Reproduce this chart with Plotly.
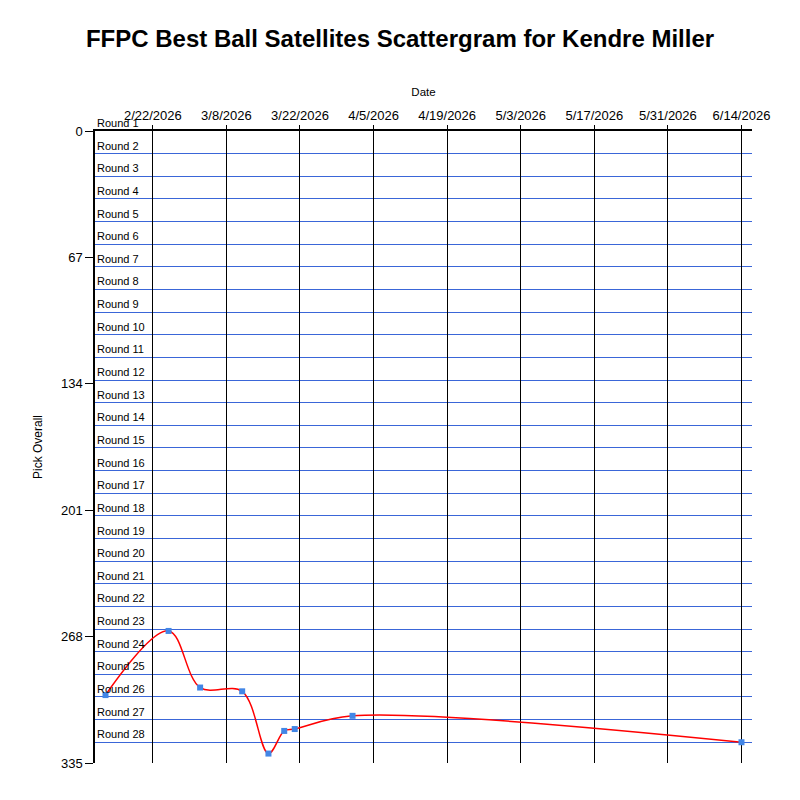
import plotly.graph_objects as go

# draft dates and overall pick for each draft
draft_dates = ["2026-02-13", "2026-02-25", "2026-03-03", "2026-03-11", "2026-03-16",
               "2026-03-19", "2026-03-21", "2026-04-01", "2026-06-14"]
pick_overall = [299, 265, 295, 297, 330, 318, 317, 310, 324]

tick_dates = ["2026-02-22", "2026-03-08", "2026-03-22", "2026-04-05", "2026-04-19",
              "2026-05-03", "2026-05-17", "2026-05-31", "2026-06-14"]
tick_labels = ["2/22/2026", "3/8/2026", "3/22/2026", "4/5/2026", "4/19/2026",
               "5/3/2026", "5/17/2026", "5/31/2026", "6/14/2026"]
pick_ticks = [0, 67, 134, 201, 268, 335]

teams = 12
rounds = list(range(1, 29))
round_starts = [(r - 1) * teams for r in rounds]

fig = go.Figure()
fig.add_trace(go.Scatter(
    x=draft_dates, y=pick_overall, mode="lines+markers",
    line=dict(color="red", width=1.5, shape="spline", smoothing=1),
    marker=dict(symbol="square", size=6, color="#4286e6"),
    showlegend=False,
))

for r, start in zip(rounds, round_starts):
    fig.add_annotation(x=0, xref="paper", y=start, yref="y", text=f"Round {r}",
                       showarrow=False, xanchor="left", yanchor="bottom",
                       font=dict(size=11, color="black"))

# the page body adds an 8px offset, margins account for it
fig.update_layout(
    title=dict(text="<b>FFPC Best Ball Satellites Scattergram for Kendre Miller</b>",
               x=(400 - 8) / 800, xanchor="center", y=1 - 31 / 800, yanchor="middle",
               font=dict(size=24, color="black")),
    font=dict(family="Arial, Liberation Sans", size=13, color="black"),
    width=800, height=800,
    margin=dict(l=87, r=56, t=123, b=45),
    plot_bgcolor="white", paper_bgcolor="white",
)
fig.update_xaxes(
    type="date", side="top", range=["2026-02-11", "2026-06-16"],
    tickvals=tick_dates, ticktext=tick_labels, automargin=False,
    showgrid=True, gridcolor="black", gridwidth=1.2,
    showline=True, linecolor="black", linewidth=1.5,
    ticks="outside", ticklen=4, tickcolor="black",
    title=dict(text="Date", font=dict(size=11.5), standoff=9),
    zeroline=False,
)
fig.update_yaxes(
    range=[335, 0], tickvals=pick_ticks, automargin=False,
    showgrid=False, zeroline=False,
    showline=True, linecolor="black", linewidth=1.5,
    ticks="outside", ticklen=8, tickcolor="black",
    minor=dict(tickvals=round_starts, showgrid=True, gridcolor="#3a66d8", gridwidth=1.2, ticks=""),
    title=dict(text="Pick Overall", font=dict(size=12), standoff=16),
)

fig.write_html("out.html")
